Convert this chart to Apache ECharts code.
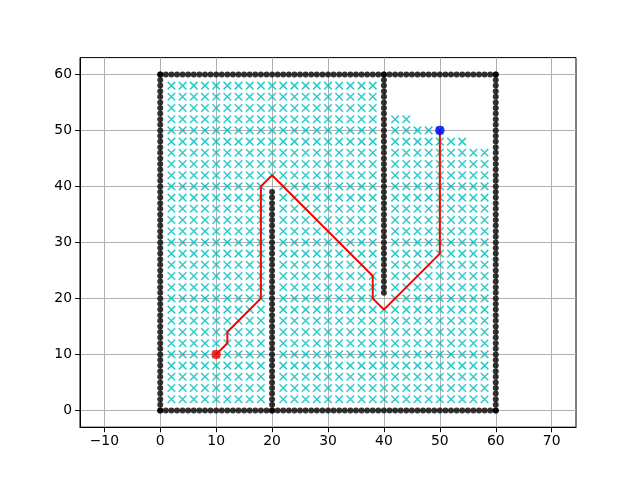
<!DOCTYPE html>
<html><head><meta charset="utf-8">
<script src="https://cdn.jsdelivr.net/npm/echarts@6/dist/echarts.min.js"></script>
<style>html,body{margin:0;background:#fff}#c{width:640px;height:480px}</style>
</head><body><div id="c"></div>
<script>
// Tick labels
const xTicks = [-10, 0, 10, 20, 30, 40, 50, 60, 70];
const yTicks = [0, 10, 20, 30, 40, 50, 60];

// Obstacle walls: [x0, y0, x1, y1], one obstacle point per unit
const wallSegments = [
  [0, 0, 60, 0],
  [60, 0, 60, 60],
  [0, 60, 60, 60],
  [0, 0, 0, 60],
  [20, 0, 20, 39],
  [40, 21, 40, 60]
];

// Visited (closed-set) grid nodes, step 2: [yFrom, yTo, xFrom, xTo]
const visitedBlocks = [
  [2, 18, 2, 18], [2, 18, 22, 58],
  [20, 40, 2, 18], [20, 40, 22, 38], [20, 40, 42, 58],
  [42, 58, 2, 38],
  [42, 46, 42, 58],
  [48, 48, 42, 54],
  [50, 50, 42, 50],
  [52, 52, 42, 44]
];

// Final path
const pathX = [10, 12, 12, 18, 18, 20, 38, 38, 40, 50, 50];
const pathY = [10, 12, 14, 20, 40, 42, 24, 20, 18, 28, 50];

const startPoint = [10, 10];
const goalPoint = [50, 50];

// Build data
const obstacles = [];
wallSegments.forEach(([x0, y0, x1, y1]) => {
  if (x0 === x1) { for (let y = y0; y <= y1; y++) obstacles.push([x0, y]); }
  else { for (let x = x0; x <= x1; x++) obstacles.push([x, y0]); }
});
const visited = [];
visitedBlocks.forEach(([ya, yb, xa, xb]) => {
  for (let y = ya; y <= yb; y += 2) for (let x = xa; x <= xb; x += 2) visited.push([x, y]);
});
const pathData = pathX.map((x, i) => [x, pathY[i]]);

const fmt = v => String(v).replace('-', '\u2212');
const labelStyle = { color: '#000', fontSize: 13.9, fontFamily: 'DejaVu Sans' };

const chart = echarts.init(document.getElementById('c'), null, { renderer: 'canvas' });
chart.setOption({
  animation: false,
  backgroundColor: '#fff',
  grid: { left: 80, top: 57.6, width: 496, height: 369.6, show: true, borderColor: '#000', borderWidth: 1, backgroundColor: 'transparent' },
  xAxis: {
    type: 'value', min: -14.35, max: 74.35, splitNumber: 9,
    axisLine: { show: true, onZero: false, lineStyle: { color: '#000', width: 1 } },
    axisTick: { show: true, inside: false, length: 5, customValues: xTicks, lineStyle: { color: '#000', width: 1 } },
    axisLabel: Object.assign({ customValues: xTicks, formatter: fmt, margin: 7 }, labelStyle),
    splitLine: { show: true, lineStyle: { color: '#b0b0b0', width: 1 } }
  },
  yAxis: {
    type: 'value', min: -3, max: 63, splitNumber: 6,
    axisLine: { show: true, onZero: false, lineStyle: { color: '#000', width: 1 } },
    axisTick: { show: true, inside: false, length: 5, customValues: yTicks, lineStyle: { color: '#000', width: 1 } },
    axisLabel: Object.assign({ customValues: yTicks, formatter: fmt, margin: 8 }, labelStyle),
    splitLine: { show: true, lineStyle: { color: '#b0b0b0', width: 1 } }
  },
  series: [
    { type: 'scatter', data: obstacles, symbol: 'circle', symbolSize: 6, itemStyle: { color: '#000' }, z: 3 },
    { type: 'scatter', data: visited, symbol: 'path://M0,0L10,10M10,0L0,10', symbolSize: 7.5,
      itemStyle: { color: 'rgba(0,0,0,0)', borderColor: '#00bfbf', borderWidth: 1.6 }, z: 4 },
    { type: 'line', data: pathData, showSymbol: false, symbol: 'none', lineStyle: { color: '#ff0000', width: 2 }, z: 5 },
    { type: 'scatter', data: [startPoint], symbol: 'circle', symbolSize: 9.5, itemStyle: { color: '#ff0000' }, z: 6 },
    { type: 'scatter', data: [goalPoint], symbol: 'circle', symbolSize: 9.5, itemStyle: { color: '#0000ff' }, z: 6 }
  ]
});
</script></body></html>
